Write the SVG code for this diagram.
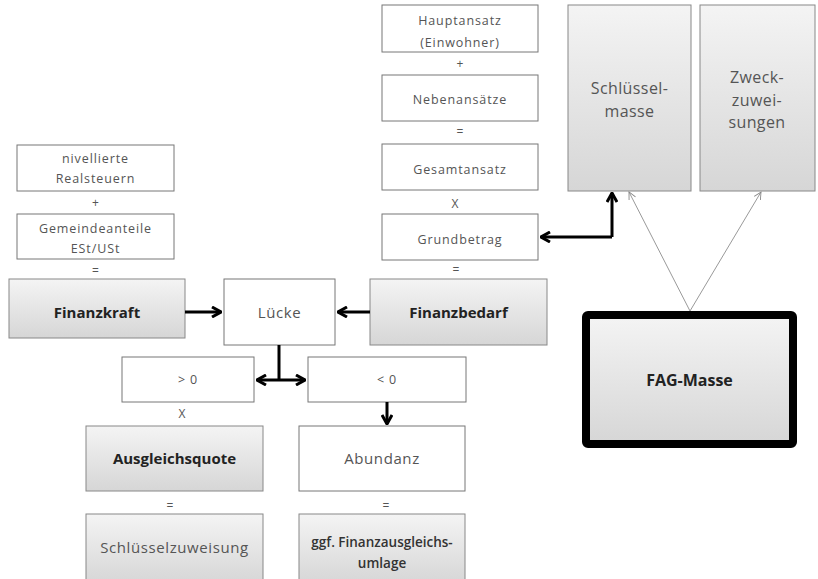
<svg xmlns="http://www.w3.org/2000/svg" width="818" height="579" viewBox="0 0 818 579">
<defs>
<linearGradient id="g" x1="0" y1="0" x2="0" y2="1">
<stop offset="0" stop-color="#f4f4f4"/>
<stop offset="1" stop-color="#d6d6d6"/>
</linearGradient>
<marker id="ah" viewBox="0 0 12 12" refX="11" refY="6" markerWidth="12" markerHeight="12" markerUnits="userSpaceOnUse" orient="auto-start-reverse">
<path d="M2,1 L11,6 L2,11" fill="none" stroke="#000" stroke-width="3" stroke-linejoin="miter"/>
</marker>
<marker id="th" viewBox="0 0 10 10" refX="9" refY="5" markerWidth="9" markerHeight="9" markerUnits="userSpaceOnUse" orient="auto">
<path d="M1,1 L9,5 L1,9" fill="none" stroke="#888" stroke-width="1"/>
</marker>
</defs>
<style>
.w{fill:#fff;stroke:#777;stroke-width:1}
.gr{fill:url(#g);stroke:#888;stroke-width:1}
text{font-family:"Open Sans","Liberation Sans",sans-serif;text-anchor:middle;fill:#555}
.s{font-size:12.5px;letter-spacing:0.9px}
.m{font-size:15px;letter-spacing:0.6px}
.l{font-size:16px;letter-spacing:0.4px}
.b{font-size:15px;font-weight:bold;fill:#222}
.u{font-size:13.5px;font-weight:600;fill:#333}
.op{font-size:12px;fill:#555}
.c{fill:none;stroke:#000;stroke-width:3}
.t{fill:none;stroke:#999;stroke-width:1}
</style>

<g id="n-realsteuern"><rect class="w" x="17" y="145" width="157" height="46"/><text class="s" x="95.5" y="163">nivellierte</text><text class="s" x="95.5" y="183">Realsteuern</text></g>
<text class="op" x="95.5" y="207">+</text>
<g id="n-gemeindeanteile"><rect class="w" x="17" y="214" width="157" height="45"/><text class="s" x="95.5" y="233">Gemeindeanteile</text><text class="s" x="95.5" y="253">ESt/USt</text></g>
<text class="op" x="95.5" y="275">=</text>
<g id="n-finanzkraft"><rect class="gr" x="9" y="279" width="176" height="59"/><text class="b" x="97" y="318">Finanzkraft</text></g>

<g id="n-luecke"><rect class="w" x="224" y="279" width="111" height="66"/><text class="m" x="279.5" y="318">Lücke</text></g>
<g id="n-finanzbedarf"><rect class="gr" x="370" y="279" width="177" height="66"/><text class="b" x="458.5" y="318">Finanzbedarf</text></g>

<g id="n-gt0"><rect class="w" x="122" y="357" width="132" height="45"/><text class="s" x="188" y="384">&gt; 0</text></g>
<g id="n-lt0"><rect class="w" x="308" y="357" width="158" height="45"/><text class="s" x="387" y="384">&lt; 0</text></g>
<text class="op" x="182" y="418">X</text>

<g id="n-ausgleichsquote"><rect class="gr" x="86" y="426" width="177" height="65"/><text class="b" x="174.5" y="464">Ausgleichsquote</text></g>
<g id="n-abundanz"><rect class="w" x="299" y="426" width="166" height="65"/><text class="m" x="382" y="464">Abundanz</text></g>
<text class="op" x="170" y="510">=</text>
<text class="op" x="386" y="510">=</text>
<g id="n-schluesselzuweisung"><rect class="gr" x="86" y="514" width="177" height="70"/><text class="m" x="174.5" y="553">Schlüsselzuweisung</text></g>
<g id="n-umlage"><rect class="gr" x="299" y="514" width="166" height="70"/><text class="u" x="382" y="547">ggf. Finanzausgleichs-</text><text class="u" x="382" y="568">umlage</text></g>

<g id="n-hauptansatz"><rect class="w" x="382" y="5" width="156" height="47"/><text class="s" x="460" y="25">Hauptansatz</text><text class="s" x="460" y="47">(Einwohner)</text></g>
<text class="op" x="460" y="68">+</text>
<g id="n-nebenansaetze"><rect class="w" x="382" y="75" width="156" height="46"/><text class="s" x="460" y="104">Nebenansätze</text></g>
<text class="op" x="460" y="136">=</text>
<g id="n-gesamtansatz"><rect class="w" x="382" y="144" width="156" height="46"/><text class="s" x="460" y="174">Gesamtansatz</text></g>
<text class="op" x="455" y="208">X</text>
<g id="n-grundbetrag"><rect class="w" x="382" y="214" width="156" height="46"/><text class="s" x="460" y="244">Grundbetrag</text></g>
<text class="op" x="456" y="274">=</text>

<g id="n-schluesselmasse"><rect class="gr" x="568" y="5" width="123" height="186"/><text class="l" x="629.5" y="94">Schlüssel-</text><text class="l" x="629.5" y="117">masse</text></g>
<g id="n-zweck"><rect class="gr" x="700" y="5" width="115" height="186"/><text class="l" x="757" y="83">Zweck-</text><text class="l" x="757" y="106">zuwei-</text><text class="l" x="757" y="128">sungen</text></g>

<g id="n-fag"><rect x="586" y="315" width="207" height="129" rx="2" fill="url(#g)" stroke="#000" stroke-width="8"/><text class="b" x="689.5" y="386" style="font-size:16px">FAG-Masse</text></g>

<g id="connectors">
<line class="c" x1="185" y1="312" x2="221" y2="312" marker-end="url(#ah)"/>
<line class="c" x1="370" y1="312" x2="338" y2="312" marker-end="url(#ah)"/>
<line class="c" x1="279" y1="345" x2="279" y2="380"/>
<line class="c" x1="257" y1="380" x2="305" y2="380" marker-start="url(#ah)" marker-end="url(#ah)"/>
<line class="c" x1="387" y1="402" x2="387" y2="424" marker-end="url(#ah)"/>
<polyline class="c" points="612,237 612,193" marker-end="url(#ah)"/>
<polyline class="c" points="541,237 612,237" marker-start="url(#ah)"/>
<line class="t" x1="690" y1="311" x2="629" y2="192" marker-end="url(#th)"/>
<line class="t" x1="690" y1="311" x2="761" y2="192" marker-end="url(#th)"/>
</g>
</svg>
